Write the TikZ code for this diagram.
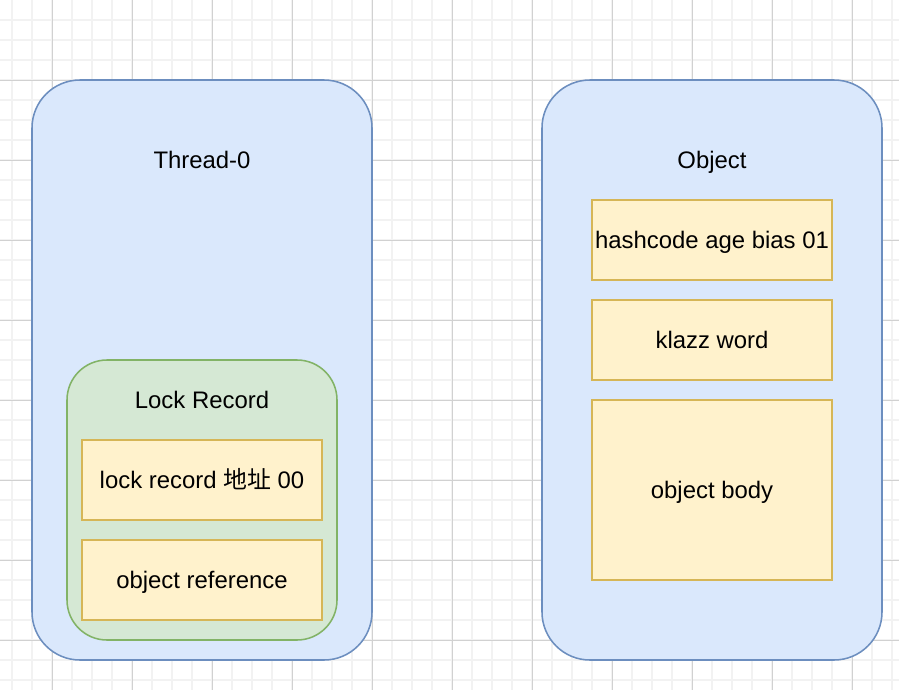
\documentclass[tikz,border=0pt]{standalone}
\usepackage{xcolor}
\usepackage{fontspec}
\setmainfont{Liberation Sans}
\newfontfamily\cjk{Noto Sans CJK SC}
\usepackage{tikz}
\definecolor{bluefill}{HTML}{DAE8FC}
\definecolor{bluedraw}{HTML}{6C8EBF}
\definecolor{greenfill}{HTML}{D5E8D4}
\definecolor{greendraw}{HTML}{82B366}
\definecolor{yellowfill}{HTML}{FFF2CC}
\definecolor{yellowdraw}{HTML}{D6B656}
\newcommand*{\bggrid}{\foreach\x in{0.6,1.6,...,44.6}\draw[minorline](\x,0)--(\x,34.5);\foreach\y in{1,2,...,34}\draw[minorline](0,\y)--(44.95,\y);\foreach\x in{2.6,6.6,...,42.6}\draw[majorline](\x,0)--(\x,34.5);\foreach\y in{4,8,...,32}\draw[majorline](0,\y)--(44.95,\y);}
\tikzset{
  minorline/.style={black!5,line width=1pt},
  majorline/.style={black!18,line width=0.6pt},
  bigbox/.style={draw=bluedraw,fill=bluefill,line width=1.1pt,rounded corners=1.2cm,minimum width=8.5cm,minimum height=14.5cm},
  lockbox/.style={draw=greendraw,fill=greenfill,line width=1.1pt,rounded corners=1cm,minimum width=6.75cm,minimum height=7cm},
  fieldbox/.style={draw=yellowdraw,fill=yellowfill,line width=1.1pt,minimum width=6cm,minimum height=2cm,inner sep=0pt,text height=15.4pt,text depth=3.6pt},
  label/.style={inner sep=0pt,text height=15.4pt,text depth=3.6pt}
}

\begin{document}
\begin{tikzpicture}[x=0.5cm,y=-0.5cm,font=\fontsize{17}{20}\selectfont]
\useasboundingbox[fill=white](0,0)rectangle(44.95,34.5);
\bggrid

\node[bigbox](thread)at(10.1,18.5){};
\node[label](threadname)at(10.1,8){Thread-0};
\node[lockbox](lockrec)at(10.1,25){};
\node[label](lockname)at(10.1,20){Lock Record};
\node[fieldbox](addr)at(10.1,24){lock record {\cjk 地址} 00};
\node[fieldbox](objref)at(10.1,29){object reference};

\node[bigbox](object)at(35.6,18.5){};
\node[label](objname)at(35.6,8){Object};
\node[fieldbox](markword)at(35.6,12){hashcode age bias 01};
\node[fieldbox](klass)at(35.6,17){klazz word};
\node[fieldbox,minimum height=4.5cm](body)at(35.6,24.5){object body};
\end{tikzpicture}
\end{document}
